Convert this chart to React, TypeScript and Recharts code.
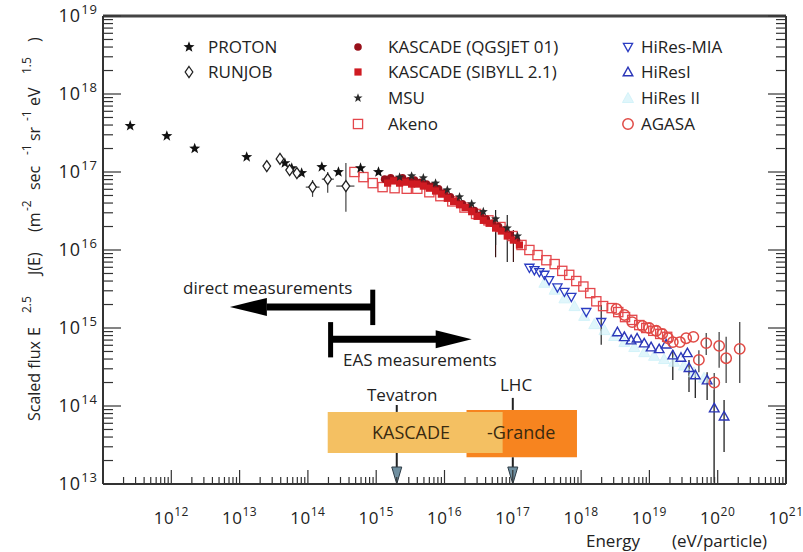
import React from "react";
import {
  ScatterChart,
  Scatter,
  XAxis,
  YAxis,
  ErrorBar,
  ReferenceLine,
  ReferenceArea,
  ReferenceDot,
} from "recharts";

const FONT = "'Open Sans', 'DejaVu Sans', sans-serif";

// axes (decade exponents)
const xDecades = [11, 12, 13, 14, 15, 16, 17, 18, 19, 20, 21];
const yDecades = [13, 14, 15, 16, 17, 18, 19];
const xLabelDecades = [12, 13, 14, 15, 16, 17, 18, 19, 20, 21];
const yLabelDecades = [13, 14, 15, 16, 17, 18, 19];
const minorSteps = [2, 3, 4, 5, 6, 7, 8, 9];

// energy in eV, scaled flux E^2.5 J(E)
const protonE = [2.5e11, 8.6e11, 2.2e12, 1.27e13, 4.6e13, 5.8e13, 8.1e13, 1.6e14, 2.8e14, 5.9e14, 1.08e15];
const protonF = [3.9e17, 2.9e17, 2.0e17, 1.56e17, 1.3e17, 1.12e17, 9.7e16, 1.16e17, 1.0e17, 1.12e17, 1.0e17];

const runjobE = [2.5e13, 3.9e13, 5.4e13, 6.9e13, 1.17e14, 1.95e14, 3.6e14];
const runjobF = [1.19e17, 1.47e17, 1.06e17, 9.7e16, 6.4e16, 8.1e16, 6.6e16];
const runjobLo = [null, null, null, null, 4.8e16, 5.4e16, 3.1e16];
const runjobHi = [null, null, null, null, 7.9e16, 1.0e17, 1.3e17];
const runjobELo = [null, null, null, null, 9.3e13, 1.6e14, 2.6e14];
const runjobEHi = [null, null, null, null, 1.48e14, 2.4e14, 4.8e14];

const qgsE = [1.33e15, 1.63e15, 1.99e15, 2.43e15, 2.98e15, 3.64e15, 4.46e15, 5.46e15, 6.7e15, 8.2e15, 1.0e16, 1.22e16, 1.5e16, 1.83e16, 2.24e16, 2.75e16, 3.36e16, 4.1e16, 5.0e16, 6.2e16, 7.5e16, 9.2e16, 1.13e17];
const qgsF = [8.1e16, 8.4e16, 7.9e16, 8.4e16, 7.7e16, 7.9e16, 7.4e16, 7.0e16, 6.6e16, 6.1e16, 5.4e16, 4.8e16, 4.2e16, 3.9e16, 3.5e16, 3.2e16, 2.8e16, 2.5e16, 2.2e16, 2.0e16, 1.8e16, 1.56e16, 1.34e16];

const sibE = [1.47e15, 1.8e15, 2.2e15, 2.69e15, 3.3e15, 4.0e15, 4.9e15, 6.0e15, 7.4e15, 9.0e15, 1.1e16, 1.36e16, 1.66e16, 2.0e16, 2.5e16, 3.0e16, 3.7e16, 4.5e16, 5.6e16, 6.8e16, 8.3e16, 1.02e17, 1.25e17];
const sibF = [7.2e16, 7.7e16, 7.2e16, 7.4e16, 7.0e16, 7.0e16, 6.6e16, 6.2e16, 5.7e16, 5.2e16, 4.6e16, 4.2e16, 3.8e16, 3.5e16, 3.1e16, 2.7e16, 2.4e16, 2.2e16, 1.91e16, 1.75e16, 1.51e16, 1.34e16, 1.16e16];
const sibLo = [null, null, null, null, null, null, null, null, null, null, null, null, null, null, null, null, null, null, 8.1e15, null, null, 7.0e15, null];
const sibHi = [null, null, null, null, null, null, null, null, null, null, null, null, null, null, null, null, null, null, 2.57e16, null, null, 1.8e16, null];

const msuE = [2.2e15, 3.3e15, 4.9e15, 7.4e15, 1.1e16, 1.66e16, 2.5e16, 3.7e16, 5.6e16, 8.3e16, 1.17e17];
const msuF = [8.6e16, 8.9e16, 8.4e16, 7.2e16, 5.9e16, 4.8e16, 3.9e16, 3.1e16, 2.5e16, 1.91e16, 1.51e16];
const msuLo = [null, null, null, null, null, null, null, null, 1.16e16, 7.0e15, null];
const msuHi = [null, null, null, null, null, null, null, null, 3.26e16, 2.8e16, null];

const akenoE = [4.8e14, 6.5e14, 8.9e14, 1.24e15, 1.86e15, 2.8e15, 4.0e15, 6.0e15, 8.7e15, 1.3e16, 1.96e16, 2.9e16, 4.4e16, 6.6e16, 9.9e16, 1.34e17, 1.75e17, 2.3e17, 3.1e17, 4.1e17, 5.3e17, 6.7e17, 8.5e17, 1.08e18, 1.36e18, 1.67e18, 2.1e18, 2.8e18, 3.5e18, 4.4e18, 5.6e18, 7.1e18, 9.0e18, 1.14e19, 1.44e19, 1.82e19];
const akenoF = [1.0e17, 8.6e16, 7.2e16, 6.4e16, 6.2e16, 6.1e16, 6.1e16, 5.5e16, 4.9e16, 4.2e16, 3.5e16, 2.9e16, 2.4e16, 1.97e16, 1.51e16, 1.16e16, 1.0e16, 8.6e15, 7.4e15, 6.6e15, 5.4e15, 4.8e15, 4.0e15, 3.4e15, 2.8e15, 2.2e15, 1.91e15, 1.8e15, 1.6e15, 1.38e15, 1.27e15, 1.09e15, 1.0e15, 9.2e14, 8.4e14, 7.7e14];

const miaE = [1.75e17, 2.07e17, 2.45e17, 2.9e17, 3.4e17, 4.5e17, 5.7e17, 7.2e17, 1.19e18, 1.97e18];
const miaF = [5.9e15, 5.5e15, 5.2e15, 4.8e15, 4.1e15, 3.3e15, 2.9e15, 2.5e15, 1.6e15, 1.19e15];
const miaLo = [null, null, null, null, null, null, null, null, null, 6.1e14];
const miaHi = [null, null, null, null, null, null, null, null, null, 1.97e15];

const hires1E = [3.4e18, 4.3e18, 5.4e18, 6.6e18, 8.4e18, 1.06e19, 1.39e19, 1.76e19, 2.2e19, 2.9e19, 3.6e19, 3.8e19, 4.7e19, 7.0e19, 8.9e19, 1.24e20];
const hires1F = [8.9e14, 7.7e14, 7.0e14, 7.4e14, 6.4e14, 5.7e14, 5.4e14, 6.2e14, 4.5e14, 4.2e14, 4.8e14, 3.1e14, 2.5e14, 2.15e14, 9.4e13, 7.4e13];
const hires1Lo = [null, null, null, null, null, null, null, null, 2.15e14, null, null, 1.51e14, 1.27e14, 1.19e14, 1.05e13, 2.57e13];
const hires1Hi = [null, null, null, null, null, null, null, null, 5.2e14, null, null, 3.9e14, 2.9e14, 2.7e14, 1.6e14, 1.19e14];

const hires2E = [2.9e17, 4.1e17, 5.7e17, 8.0e17, 1.11e18, 1.56e18, 2.2e18, 3.05e18, 4.3e18, 6.0e18, 8.4e18, 1.17e19, 1.64e19, 2.3e19, 3.2e19, 4.5e19, 6.3e19];
const hires2F = [3.8e15, 3.1e15, 2.4e15, 1.91e15, 1.43e15, 1.12e15, 9.4e14, 7.9e14, 6.6e14, 5.7e14, 4.9e14, 4.4e14, 4.0e14, 3.7e14, 3.3e14, 2.7e14, 2.3e14];

const agasaE = [3.3e18, 4.3e18, 5.6e18, 7.9e18, 9.9e18, 1.26e19, 1.54e19, 1.88e19, 2.2e19, 2.8e19, 3.45e19, 4.4e19, 5.3e19, 6.8e19, 8.9e19, 1.05e20, 1.33e20, 2.1e20];
const agasaF = [1.75e15, 1.47e15, 1.19e15, 1.06e15, 1.0e15, 9.2e14, 8.4e14, 7.4e14, 6.6e14, 6.6e14, 7.4e14, 7.7e14, 3.9e14, 6.4e14, 2.0e14, 5.9e14, 4.1e14, 5.4e14];
const agasaLo = [null, null, null, null, null, null, null, null, null, null, null, null, 2.7e14, 4.5e14, 1.02e13, 3.1e14, 1.97e14, 1.97e14];
const agasaHi = [null, null, null, null, null, null, null, null, null, null, null, null, 5.2e14, 8.6e14, 2.65e14, 8.9e14, 7.7e14, 1.19e15];

// annotations (data space)
const directBar = { e: 8.9e14, top: 3.1e15, bottom: 1.09e15 };
const directShaft = { f: 1.86e15, from: 8.9e14, to: 2.5e13, tip: 7.2e12 };
const easBar = { e: 2.15e14, top: 1.19e15, bottom: 4.2e14 };
const easShaft = { f: 7.2e14, from: 2.15e14, to: 7.6e15, tip: 2.5e16 };
const kascadeBox = { e1: 1.95e14, e2: 7.1e16, f1: 2.5e13, f2: 8.4e13 };
const grandeBox = { e1: 2.1e16, e2: 8.7e17, f1: 2.2e13, f2: 8.9e13 };
const tevatronE = 2.0e15;
const lhcE = 1.0e17;

type Row = { x: number; y: number; ey: [number, number]; ex: [number, number] };

function rows(
  E: number[],
  F: number[],
  lo?: (number | null)[],
  hi?: (number | null)[],
  eLo?: (number | null)[],
  eHi?: (number | null)[]
): Row[] {
  return E.map((x, i) => {
    const y = F[i];
    const l = lo?.[i] ?? y;
    const h = hi?.[i] ?? y;
    const el = eLo?.[i] ?? x;
    const eh = eHi?.[i] ?? x;
    return { x, y, ey: [y - l, h - y], ex: [x - el, eh - x] };
  });
}

function logTicks(decades: number[]) {
  const out: number[] = [];
  decades.forEach((d, i) => {
    out.push(10 ** d);
    if (i < decades.length - 1) minorSteps.forEach((m) => out.push(m * 10 ** d));
  });
  return out;
}

const xTicks = logTicks(xDecades);
const yTicks = logTicks(yDecades);

function decadeOf(v: number) {
  const exp = Math.round(Math.log10(v));
  return { exp, major: Math.abs(v / 10 ** exp - 1) < 1e-6 };
}

function XTick(props: any) {
  const { x, y, payload } = props;
  const { exp, major } = decadeOf(payload.value);
  const label = major && xLabelDecades.includes(exp);
  return (
    <g>
      <line x1={x} x2={x} y1={y} y2={y - (major ? 14 : 7)} stroke="#333" strokeWidth={1.2} />
      {label && (
        <text x={x} y={y + 40} textAnchor="middle" fontFamily={FONT} fontSize={17} fill="#222" letterSpacing={0.5}>
          10<tspan dy={-8} fontSize={12}>{exp}</tspan>
        </text>
      )}
    </g>
  );
}

function YTickLeft(props: any) {
  const { x, y, payload } = props;
  const { exp, major } = decadeOf(payload.value);
  const label = major && yLabelDecades.includes(exp);
  return (
    <g>
      <line x1={x} x2={x + (major ? 18 : 10)} y1={y} y2={y} stroke="#333" strokeWidth={1.2} />
      {label && (
        <text x={x - 5} y={y + 6} textAnchor="end" fontFamily={FONT} fontSize={18} fill="#222" letterSpacing={1}>
          10<tspan dy={-8} fontSize={13}>{exp}</tspan>
        </text>
      )}
    </g>
  );
}

function YTickRight(props: any) {
  const { x, y, payload } = props;
  const { major } = decadeOf(payload.value);
  return <line x1={x} x2={x - (major ? 18 : 10)} y1={y} y2={y} stroke="#333" strokeWidth={1.2} />;
}

function starPts(cx: number, cy: number, R: number, r: number) {
  const pts: string[] = [];
  for (let i = 0; i < 10; i++) {
    const a = -Math.PI / 2 + (i * Math.PI) / 5;
    const rad = i % 2 === 0 ? R : r;
    pts.push(`${cx + rad * Math.cos(a)},${cy + rad * Math.sin(a)}`);
  }
  return pts.join(" ");
}

const ProtonDot = ({ cx, cy }: any) => <polygon points={starPts(cx, cy, 5.8, 2.4)} fill="#111" />;
const RunjobDot = ({ cx, cy }: any) => (
  <polygon
    points={`${cx},${cy - 5.5} ${cx + 3.8},${cy} ${cx},${cy + 5.5} ${cx - 3.8},${cy}`}
    fill="#fff"
    stroke="#222"
    strokeWidth={1.3}
  />
);
const QgsDot = ({ cx, cy }: any) => <circle cx={cx} cy={cy} r={3.8} fill="#98101a" />;
const SibDot = ({ cx, cy }: any) => <rect x={cx - 3.6} y={cy - 3.6} width={7.2} height={7.2} fill="#cf1b22" />;
const MsuDot = ({ cx, cy }: any) => <polygon points={starPts(cx, cy, 4.8, 2.0)} fill="#2a2a2a" />;
const AkenoDot = ({ cx, cy }: any) => (
  <rect x={cx - 4.6} y={cy - 4.6} width={9.2} height={9.2} fill="none" stroke="#e4474c" strokeWidth={1.3} />
);
const MiaDot = ({ cx, cy }: any) => (
  <polygon
    points={`${cx - 4.6},${cy - 3.6} ${cx + 4.6},${cy - 3.6} ${cx},${cy + 4.6}`}
    fill="none"
    stroke="#2b3cc2"
    strokeWidth={1.3}
  />
);
const HiRes1Dot = ({ cx, cy }: any) => (
  <polygon
    points={`${cx - 4.8},${cy + 3.8} ${cx + 4.8},${cy + 3.8} ${cx},${cy - 4.8}`}
    fill="none"
    stroke="#2b36b8"
    strokeWidth={1.4}
  />
);
const HiRes2Dot = ({ cx, cy }: any) => (
  <polygon
    points={`${cx - 5.5},${cy + 4.5} ${cx + 5.5},${cy + 4.5} ${cx},${cy - 5.5}`}
    fill="#d4f3fa"
    stroke="#c2eef7"
    strokeWidth={1}
    opacity={0.7}
  />
);
const AgasaDot = ({ cx, cy }: any) => (
  <circle cx={cx} cy={cy} r={5.2} fill="none" stroke="#e04a45" strokeWidth={1.5} />
);

const leftHead = ({ cx, cy }: any) => (
  <polygon points={`${cx},${cy} ${cx + 37},${cy - 9} ${cx + 37},${cy + 9}`} fill="#000" />
);
const rightHead = ({ cx, cy }: any) => (
  <polygon points={`${cx},${cy} ${cx - 36},${cy - 9} ${cx - 36},${cy + 9}`} fill="#000" />
);
const downHead = ({ cx, cy }: any) => (
  <polygon points={`${cx},${cy} ${cx - 5},${cy - 17} ${cx + 5},${cy - 17}`} fill="#6f8fa0" stroke="#2c3a44" strokeWidth={1} />
);

const legendCols = [
  { sx: 189, tx: 208, items: [
    { label: "PROTON", Dot: ProtonDot },
    { label: "RUNJOB", Dot: RunjobDot },
  ] },
  { sx: 358, tx: 388, items: [
    { label: "KASCADE (QGSJET 01)", Dot: QgsDot },
    { label: "KASCADE (SIBYLL 2.1)", Dot: SibDot },
    { label: "MSU", Dot: MsuDot },
    { label: "Akeno", Dot: AkenoDot },
  ] },
  { sx: 628, tx: 641, items: [
    { label: "HiRes-MIA", Dot: MiaDot },
    { label: "HiResI", Dot: HiRes1Dot },
    { label: "HiRes II", Dot: HiRes2Dot },
    { label: "AGASA", Dot: AgasaDot },
  ] },
];
const legendRows = [47, 72, 98, 124];

function Overlay() {
  const sup = 12;
  return (
    <svg width={803} height={552} style={{ position: "absolute", left: 0, top: 0, pointerEvents: "none" }}>
      <g fontFamily={FONT} fill="#222">
        {legendCols.map((col, ci) =>
          col.items.map((it, ri) => (
            <g key={`${ci}-${ri}`}>
              <it.Dot cx={col.sx} cy={legendRows[ri]} />
              <text x={col.tx} y={legendRows[ri] + 6} fontSize={17}>
                {it.label}
              </text>
            </g>
          ))
        )}

        <text transform="translate(40,421) rotate(-90)" fontSize={16}>
          <tspan x={0} y={0}>Scaled flux</tspan>
          <tspan x={85} y={0}>E</tspan>
          <tspan x={108} y={-9} fontSize={sup}>2.5</tspan>
          <tspan x={146} y={0}>J(E)</tspan>
          <tspan x={189} y={0}>(m</tspan>
          <tspan x={210} y={-9} fontSize={sup}>-2</tspan>
          <tspan x={231} y={0}>sec</tspan>
          <tspan x={266} y={-9} fontSize={sup}>-1</tspan>
          <tspan x={280} y={0}>sr</tspan>
          <tspan x={300} y={-9} fontSize={sup}>-1</tspan>
          <tspan x={315} y={0}>eV</tspan>
          <tspan x={347} y={-9} fontSize={sup}>1.5</tspan>
          <tspan x={379} y={0}>)</tspan>
        </text>

        <text x={586} y={547} fontSize={17}>Energy</text>
        <text x={672} y={547} fontSize={17}>(eV/particle)</text>

        <text x={183} y={294} fontSize={17}>direct measurements</text>
        <text x={343} y={366} fontSize={17}>EAS measurements</text>
        <text x={367} y={401} fontSize={17}>Tevatron</text>
        <text x={500} y={391} fontSize={17}>LHC</text>
        <text x={372} y={439} fontSize={18} fill="#3a2a10">KASCADE</text>
        <text x={487} y={439} fontSize={18} fill="#3a2a10">-Grande</text>
      </g>
    </svg>
  );
}

export default function App() {
  return (
    <div style={{ position: "absolute", left: 0, top: 0, width: 803, height: 552, background: "#fff" }}>
      <ScatterChart width={803} height={552} margin={{ top: 16, right: 15, bottom: 28, left: 3 }}>
        <XAxis
          type="number"
          dataKey="x"
          scale="log"
          domain={[1e11, 1e21]}
          allowDataOverflow
          ticks={xTicks}
          interval={0}
          tickSize={0}
          tickMargin={0}
          tick={<XTick />}
          height={40}
          axisLine={{ stroke: "#333", strokeWidth: 2 }}
        />
        <YAxis
          type="number"
          dataKey="y"
          scale="log"
          domain={[1e13, 1e19]}
          allowDataOverflow
          ticks={yTicks}
          interval={0}
          tickSize={0}
          tickMargin={0}
          tick={<YTickLeft />}
          width={100}
          axisLine={{ stroke: "#333", strokeWidth: 2 }}
        />
        <YAxis
          yAxisId="r"
          orientation="right"
          type="number"
          scale="log"
          domain={[1e13, 1e19]}
          allowDataOverflow
          ticks={yTicks}
          interval={0}
          tickSize={0}
          tickMargin={0}
          tick={<YTickRight />}
          width={2}
          axisLine={{ stroke: "#333", strokeWidth: 2 }}
        />
        <ReferenceLine y={1e19} stroke="#444" strokeWidth={3} ifOverflow="visible" />

        <ReferenceArea x1={grandeBox.e1} x2={grandeBox.e2} y1={grandeBox.f1} y2={grandeBox.f2} fill="#f7841f" fillOpacity={1} stroke="none" ifOverflow="visible" />
        <ReferenceArea x1={kascadeBox.e1} x2={kascadeBox.e2} y1={kascadeBox.f1} y2={kascadeBox.f2} fill="#f4c062" fillOpacity={1} stroke="none" ifOverflow="visible" />

        <ReferenceLine segment={[{ x: tevatronE, y: 1.03e14 }, { x: tevatronE, y: kascadeBox.f2 }]} stroke="#222" strokeWidth={2} ifOverflow="visible" />
        <ReferenceLine segment={[{ x: lhcE, y: 1.27e14 }, { x: lhcE, y: grandeBox.f2 }]} stroke="#222" strokeWidth={2} ifOverflow="visible" />
        <ReferenceLine segment={[{ x: tevatronE, y: kascadeBox.f1 }, { x: tevatronE, y: 1.5e13 }]} stroke="#222" strokeWidth={2} ifOverflow="visible" />
        <ReferenceLine segment={[{ x: lhcE, y: grandeBox.f1 }, { x: lhcE, y: 1.5e13 }]} stroke="#222" strokeWidth={2} ifOverflow="visible" />
        <ReferenceDot x={tevatronE} y={1e13} r={1} shape={downHead} ifOverflow="visible" />
        <ReferenceDot x={lhcE} y={1e13} r={1} shape={downHead} ifOverflow="visible" />

        <ReferenceLine segment={[{ x: directShaft.from, y: directShaft.f }, { x: directShaft.to, y: directShaft.f }]} stroke="#000" strokeWidth={7} ifOverflow="visible" />
        <ReferenceLine segment={[{ x: directBar.e, y: directBar.top }, { x: directBar.e, y: directBar.bottom }]} stroke="#000" strokeWidth={5} ifOverflow="visible" />
        <ReferenceDot x={directShaft.tip} y={directShaft.f} r={1} shape={leftHead} ifOverflow="visible" />
        <ReferenceLine segment={[{ x: easShaft.from, y: easShaft.f }, { x: easShaft.to, y: easShaft.f }]} stroke="#000" strokeWidth={7} ifOverflow="visible" />
        <ReferenceLine segment={[{ x: easBar.e, y: easBar.top }, { x: easBar.e, y: easBar.bottom }]} stroke="#000" strokeWidth={5} ifOverflow="visible" />
        <ReferenceDot x={easShaft.tip} y={easShaft.f} r={1} shape={rightHead} ifOverflow="visible" />

        <Scatter data={rows(hires2E, hires2F)} shape={HiRes2Dot} isAnimationActive={false} />
        <Scatter data={rows(akenoE, akenoF)} shape={AkenoDot} isAnimationActive={false} />
        <Scatter data={rows(qgsE, qgsF)} shape={QgsDot} isAnimationActive={false} />
        <Scatter data={rows(sibE, sibF, sibLo, sibHi)} shape={SibDot} isAnimationActive={false}>
          <ErrorBar dataKey="ey" direction="y" width={0} stroke="#3a1010" strokeWidth={1.2} isAnimationActive={false} />
        </Scatter>
        <Scatter data={rows(msuE, msuF, msuLo, msuHi)} shape={MsuDot} isAnimationActive={false}>
          <ErrorBar dataKey="ey" direction="y" width={0} stroke="#222" strokeWidth={1.2} isAnimationActive={false} />
        </Scatter>
        <Scatter data={rows(protonE, protonF)} shape={ProtonDot} isAnimationActive={false} />
        <Scatter data={rows(runjobE, runjobF, runjobLo, runjobHi, runjobELo, runjobEHi)} shape={RunjobDot} isAnimationActive={false}>
          <ErrorBar dataKey="ey" direction="y" width={0} stroke="#444" strokeWidth={1.2} isAnimationActive={false} />
          <ErrorBar dataKey="ex" direction="x" width={0} stroke="#444" strokeWidth={1.2} isAnimationActive={false} />
        </Scatter>
        <Scatter data={rows(miaE, miaF, miaLo, miaHi)} shape={MiaDot} isAnimationActive={false}>
          <ErrorBar dataKey="ey" direction="y" width={0} stroke="#222" strokeWidth={1.2} isAnimationActive={false} />
        </Scatter>
        <Scatter data={rows(hires1E, hires1F, hires1Lo, hires1Hi)} shape={HiRes1Dot} isAnimationActive={false}>
          <ErrorBar dataKey="ey" direction="y" width={0} stroke="#222" strokeWidth={1.3} isAnimationActive={false} />
        </Scatter>
        <Scatter data={rows(agasaE, agasaF, agasaLo, agasaHi)} shape={AgasaDot} isAnimationActive={false}>
          <ErrorBar dataKey="ey" direction="y" width={0} stroke="#555" strokeWidth={1.4} isAnimationActive={false} />
        </Scatter>
      </ScatterChart>
      <Overlay />
    </div>
  );
}
